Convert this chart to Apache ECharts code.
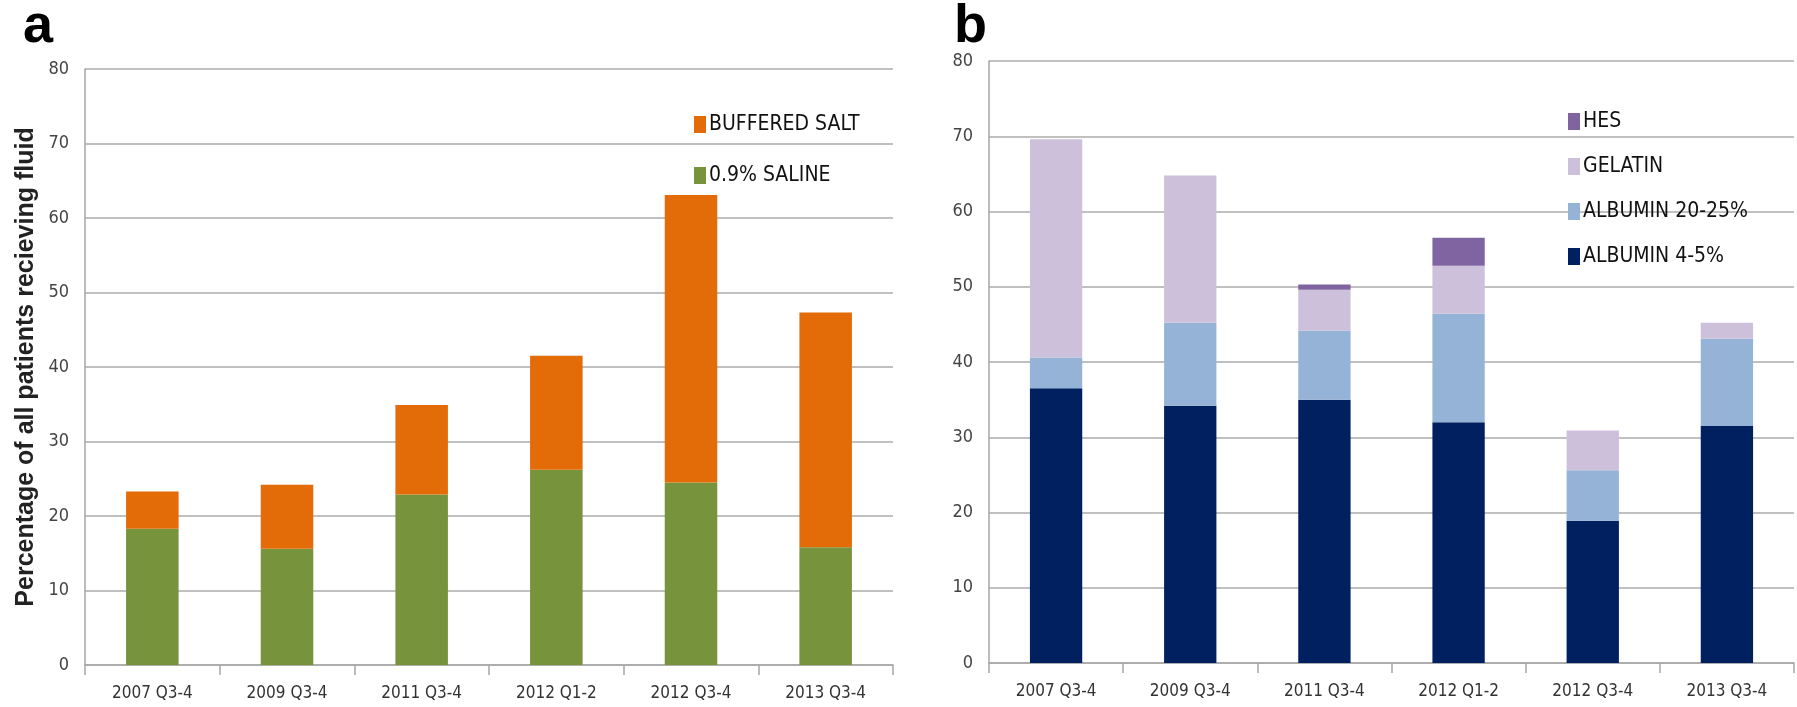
<!DOCTYPE html>
<html>
<head>
<meta charset="utf-8">
<script src="https://cdn.jsdelivr.net/npm/echarts@6/dist/echarts.min.js"></script>
<style>
  html, body { margin: 0; padding: 0; background: #fff; }
  #chart { width: 1797px; height: 707px; }
</style>
</head>
<body>
<div id="chart"></div>
<script>
const CATEGORIES = ['2007 Q3-4', '2009 Q3-4', '2011 Q3-4', '2012 Q1-2', '2012 Q3-4', '2013 Q3-4'];

// panel a
const SALINE = [18.3, 15.6, 22.9, 26.2, 24.5, 15.8];
const BUFFERED = [5.0, 8.6, 12.0, 15.3, 38.6, 31.5];

// panel b
const ALB_4_5 = [36.5, 34.2, 35.0, 32.0, 18.9, 31.5];
const ALB_20_25 = [4.1, 11.0, 9.2, 14.4, 6.7, 11.6];
const GELATIN = [29.0, 19.6, 5.4, 6.4, 5.3, 2.1];
const HES = [0, 0, 0.7, 3.7, 0, 0];

const Y_TICKS = [0, 10, 20, 30, 40, 50, 60, 70, 80];

const FONT = "'Liberation Sans Narrow', 'DejaVu Sans Condensed', 'Liberation Sans', sans-serif";
const BOLD_FONT = "'Liberation Sans', Arial, sans-serif";
const GRID_COLOR = '#c0c0c0';
const AXIS_COLOR = '#a6a6a6';

const chart = echarts.init(document.getElementById('chart'), null, { renderer: 'canvas' });

function xAxis(gridIndex) {
  return {
    type: 'category',
    gridIndex,
    data: CATEGORIES,
    boundaryGap: true,
    axisLine: { lineStyle: { color: AXIS_COLOR, width: 1.5 } },
    axisTick: { show: true, length: 10, lineStyle: { color: AXIS_COLOR, width: 1.5 } },
    axisLabel: { color: '#333', fontFamily: FONT, fontSize: 17, margin: 20 },
  };
}

function yAxis(gridIndex, extra) {
  return Object.assign({
    type: 'value',
    gridIndex,
    min: Y_TICKS[0],
    max: Y_TICKS[Y_TICKS.length - 1],
    interval: 10,
    axisLine: { show: true, lineStyle: { color: AXIS_COLOR, width: 1.5 } },
    axisTick: { show: false },
    splitLine: { lineStyle: { color: GRID_COLOR, width: 2 } },
    axisLabel: { color: '#444', fontFamily: FONT, fontSize: 18, margin: 16 },
  }, extra || {});
}

function bar(name, data, color, xi) {
  return {
    name,
    type: 'bar',
    stack: 'p' + xi,
    xAxisIndex: xi,
    yAxisIndex: xi,
    data,
    barWidth: '39%',
    itemStyle: { color },
    emphasis: { disabled: true },
  };
}

const panelLetter = { fontFamily: BOLD_FONT, fontWeight: 'bold', fontSize: 54, color: '#000' };

chart.setOption({
  backgroundColor: '#fff',
  animation: false,
  title: [
    { text: 'a', left: 23, top: 0, padding: 0, textStyle: panelLetter },
    { text: 'b', left: 954, top: 0, padding: 0, textStyle: panelLetter },
  ],
  grid: [
    { left: 85, right: 904, top: 69, bottom: 42 },
    { left: 989, right: 3, top: 61, bottom: 44 },
  ],
  legend: [
    {
      orient: 'vertical', left: 689, top: 109,
      data: ['BUFFERED SALT', '0.9% SALINE'],
      itemWidth: 12, itemHeight: 17, itemGap: 30,
      icon: 'rect',
      textStyle: { fontFamily: FONT, fontSize: 21, color: '#111', padding: [0, 0, 0, -2] },
    },
    {
      orient: 'vertical', left: 1563, top: 106,
      data: ['HES', 'GELATIN', 'ALBUMIN 20-25%', 'ALBUMIN 4-5%'],
      itemWidth: 12, itemHeight: 17, itemGap: 24,
      icon: 'rect',
      textStyle: { fontFamily: FONT, fontSize: 21, color: '#111', padding: [0, 0, 0, -2] },
    },
  ],
  xAxis: [xAxis(0), xAxis(1)],
  yAxis: [
    yAxis(0, {
      name: 'Percentage of all patients recieving fluid',
      nameLocation: 'middle',
      nameGap: 46,
      nameTextStyle: { fontFamily: BOLD_FONT, fontWeight: 'bold', fontSize: 25, color: '#222' },
    }),
    yAxis(1),
  ],
  series: [
    bar('0.9% SALINE', SALINE, '#77933c', 0),
    bar('BUFFERED SALT', BUFFERED, '#e36c09', 0),
    bar('ALBUMIN 4-5%', ALB_4_5, '#002060', 1),
    bar('ALBUMIN 20-25%', ALB_20_25, '#95b3d7', 1),
    bar('GELATIN', GELATIN, '#ccc0da', 1),
    bar('HES', HES, '#8064a2', 1),
  ],
});
</script>
</body>
</html>
